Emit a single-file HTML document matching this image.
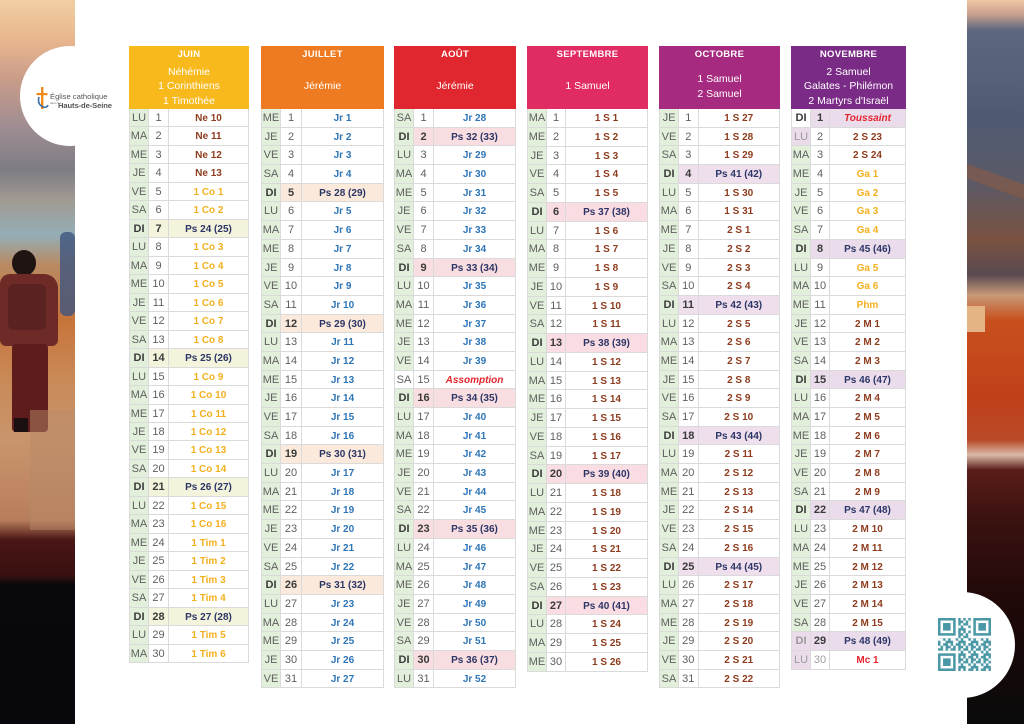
<!DOCTYPE html>
<html><head><meta charset="utf-8">
<style>
*{margin:0;padding:0;box-sizing:border-box}
body{width:1024px;height:724px;overflow:hidden;background:#fff;font-family:"Liberation Sans",sans-serif;position:relative}
.lp{position:absolute;left:0;top:0;width:75px;height:724px;overflow:hidden;
background:linear-gradient(to bottom,#F1CFA2 0px,#E8B68E 40px,#C99C8A 80px,#9C8C92 130px,#7E7C84 170px,#A19A92 200px,#94AEB6 235px,#B98A62 265px,#C7743A 320px,#C98A58 380px,#C9956C 440px,#B87E5C 520px,#4A1616 540px,#3A1010 575px,#09090D 585px,#08080C 724px)}
.rp{position:absolute;left:967px;top:0;width:57px;height:724px;overflow:hidden;
background:linear-gradient(to bottom,#EFC7A2 0px,#C9A08E 14px,#5E6780 30px,#4F5A72 120px,#5A5A68 180px,#7A5240 240px,#5A4A52 275px,#C89A78 295px,#C8501E 320px,#C0401A 400px,#B84A28 440px,#D9B9A8 455px,#5A1C18 470px,#3A1210 520px,#200808 600px,#0A0A0A 724px)}
.blob{position:absolute}
.circ{position:absolute;border-radius:50%;background:#fff}
.t{position:absolute;top:46px}
.h{height:63px;position:relative;color:#fff;text-align:center}
.h .m{position:absolute;top:1px;left:0;right:0;height:16px;line-height:16px;font-weight:bold;font-size:9.5px;letter-spacing:.3px}
.h .sub{position:absolute;top:18px;left:0;right:0;bottom:0;display:flex;flex-direction:column;justify-content:center;font-size:10.5px;line-height:14.5px}
.r{display:flex;height:var(--h);border-bottom:1px solid #dadada}
.r span{display:block;text-align:center;line-height:calc(var(--h) + 1px);white-space:nowrap;overflow:hidden}
.r span:nth-child(1){width:var(--d);background:#E2EFDA;color:#5f5f5f;font-size:11px;border-left:1px solid #dadada;border-right:1px solid #dadada}
.r span:nth-child(2){width:var(--n);color:#5f5f5f;font-size:11px;border-right:1px solid #dadada}
.r span:nth-child(3){flex:1;font-weight:bold;font-size:10px;border-right:1px solid #dadada}
.s span:nth-child(1),.s span:nth-child(2){font-weight:bold;color:#3a3a3a}
.s span:nth-child(2),.s span:nth-child(3){background:var(--s)}
.s span:nth-child(3){color:#2B3566}
.w span:nth-child(1){background:#fff}
.l span:nth-child(1){background:var(--s);color:#9a9a9a}
.g span:nth-child(2){color:#a0a0a0}
.a{color:#8E3C1D}.y{color:#F3B01E}.b{color:#2E75B6}
.rd{color:#E3262E !important;font-style:italic}.mc{color:#E3262E}
</style></head><body>

<div class="lp">
  <div class="blob" style="left:60px;top:232px;width:15px;height:84px;background:#3F5580;border-radius:6px;opacity:.8"></div>
  <div class="blob" style="left:12px;top:250px;width:24px;height:26px;background:#1E1412;border-radius:50%"></div>
  <div class="blob" style="left:0;top:274px;width:58px;height:72px;background:#6E2A26;border-radius:10px 14px 6px 6px"></div>
  <div class="blob" style="left:8px;top:284px;width:38px;height:46px;background:#5A2220;border-radius:6px"></div>
  <div class="blob" style="left:12px;top:344px;width:36px;height:88px;background:#5E1C1C;border-radius:4px"></div>
  <div class="blob" style="left:14px;top:418px;width:14px;height:14px;background:#1A1010"></div>
  <div class="blob" style="left:30px;top:410px;width:45px;height:120px;background:#B88A68;opacity:.5"></div>
</div>
<div class="circ" style="left:20px;top:46px;width:100px;height:100px"></div>

<!-- logo -->
<svg style="position:absolute;left:36px;top:87px" width="14" height="24" viewBox="0 0 14 24">
  <rect x="5" y="0" width="2.4" height="22" fill="#F08A1C"/>
  <rect x="0.5" y="6" width="11" height="2.2" fill="#F08A1C"/>
  <path d="M3 10 Q1 17 7 20 Q11 21 12 18" stroke="#3A6EA5" stroke-width="1.6" fill="none"/>
</svg>
<div style="position:absolute;left:50px;top:92px;font-size:7.6px;color:#555;line-height:9px;white-space:nowrap">Église catholique</div>
<div style="position:absolute;left:50px;top:101px;font-size:3px;color:#777;line-height:4px;white-space:nowrap">dans les</div>
<div style="position:absolute;left:58px;top:101px;font-size:7.6px;color:#555;line-height:9px;font-weight:bold;white-space:nowrap;letter-spacing:-.1px">Hauts-de-Seine</div>

<div class="rp">
  <div class="blob" style="left:0;top:306px;width:18px;height:26px;background:#E4B486"></div>
  <div class="blob" style="left:-10px;top:175px;width:80px;height:14px;background:#9A5A3A;opacity:.45;transform:rotate(20deg)"></div>
</div>
<div class="circ" style="left:909px;top:592px;width:106px;height:106px"></div>

<svg style="position:absolute;left:938px;top:618px" width="53" height="53" viewBox="0 0 21 21">
  <defs><pattern id="qp" patternUnits="userSpaceOnUse" width="5" height="5">
    <path fill="#4A97A6" d="M0 0h1v1h-1z M2 0h2v1h-2z M1 1h1v1h-1z M3 1h2v1h-2z M0 2h2v1h-2z M3 2h1v1h-1z M2 3h1v1h-1z M4 3h1v1h-1z M0 4h1v1h-1z M3 4h2v1h-2z"/>
  </pattern></defs>
  <rect width="21" height="21" fill="url(#qp)"/>
  <rect x="0" y="0" width="8" height="8" fill="#fff"/>
  <rect x="13" y="0" width="8" height="8" fill="#fff"/>
  <rect x="0" y="13" width="8" height="8" fill="#fff"/>
  <g fill="none" stroke="#4A97A6" stroke-width="1">
    <rect x="0.5" y="0.5" width="6" height="6"/><rect x="14.5" y="0.5" width="6" height="6"/><rect x="0.5" y="14.5" width="6" height="6"/>
  </g>
  <g fill="#4A97A6"><rect x="2" y="2" width="3" height="3"/><rect x="16" y="2" width="3" height="3"/><rect x="2" y="16" width="3" height="3"/></g>
</svg>

<!-- JUIN -->
<div class="t" style="left:129px;width:120px;--d:20px;--n:20px;--h:18.47px;--s:#F4F3DC">
<div class="h" style="background:#F8B91C"><div class="m">JUIN</div><div class="sub"><div>Néhémie</div><div>1 Corinthiens</div><div>1 Timothée</div></div></div>
<div class="r"><span>LU</span><span>1</span><span class="a">Ne 10</span></div>
<div class="r"><span>MA</span><span>2</span><span class="a">Ne 11</span></div>
<div class="r"><span>ME</span><span>3</span><span class="a">Ne 12</span></div>
<div class="r"><span>JE</span><span>4</span><span class="a">Ne 13</span></div>
<div class="r"><span>VE</span><span>5</span><span class="y">1 Co 1</span></div>
<div class="r"><span>SA</span><span>6</span><span class="y">1 Co 2</span></div>
<div class="r s"><span>DI</span><span>7</span><span>Ps 24 (25)</span></div>
<div class="r"><span>LU</span><span>8</span><span class="y">1 Co 3</span></div>
<div class="r"><span>MA</span><span>9</span><span class="y">1 Co 4</span></div>
<div class="r"><span>ME</span><span>10</span><span class="y">1 Co 5</span></div>
<div class="r"><span>JE</span><span>11</span><span class="y">1 Co 6</span></div>
<div class="r"><span>VE</span><span>12</span><span class="y">1 Co 7</span></div>
<div class="r"><span>SA</span><span>13</span><span class="y">1 Co 8</span></div>
<div class="r s"><span>DI</span><span>14</span><span>Ps 25 (26)</span></div>
<div class="r"><span>LU</span><span>15</span><span class="y">1 Co 9</span></div>
<div class="r"><span>MA</span><span>16</span><span class="y">1 Co 10</span></div>
<div class="r"><span>ME</span><span>17</span><span class="y">1 Co 11</span></div>
<div class="r"><span>JE</span><span>18</span><span class="y">1 Co 12</span></div>
<div class="r"><span>VE</span><span>19</span><span class="y">1 Co 13</span></div>
<div class="r"><span>SA</span><span>20</span><span class="y">1 Co 14</span></div>
<div class="r s"><span>DI</span><span>21</span><span>Ps 26 (27)</span></div>
<div class="r"><span>LU</span><span>22</span><span class="y">1 Co 15</span></div>
<div class="r"><span>MA</span><span>23</span><span class="y">1 Co 16</span></div>
<div class="r"><span>ME</span><span>24</span><span class="y">1 Tim 1</span></div>
<div class="r"><span>JE</span><span>25</span><span class="y">1 Tim 2</span></div>
<div class="r"><span>VE</span><span>26</span><span class="y">1 Tim 3</span></div>
<div class="r"><span>SA</span><span>27</span><span class="y">1 Tim 4</span></div>
<div class="r s"><span>DI</span><span>28</span><span>Ps 27 (28)</span></div>
<div class="r"><span>LU</span><span>29</span><span class="y">1 Tim 5</span></div>
<div class="r"><span>MA</span><span>30</span><span class="y">1 Tim 6</span></div>
</div>

<!-- JUILLET -->
<div class="t" style="left:261px;width:123px;--d:20px;--n:21px;--h:18.7px;--s:#FBEADC">
<div class="h" style="background:#EE7B21"><div class="m">JUILLET</div><div class="sub"><div>Jérémie</div></div></div>
<div class="r"><span>ME</span><span>1</span><span class="b">Jr 1</span></div>
<div class="r"><span>JE</span><span>2</span><span class="b">Jr 2</span></div>
<div class="r"><span>VE</span><span>3</span><span class="b">Jr 3</span></div>
<div class="r"><span>SA</span><span>4</span><span class="b">Jr 4</span></div>
<div class="r s"><span>DI</span><span>5</span><span>Ps 28 (29)</span></div>
<div class="r"><span>LU</span><span>6</span><span class="b">Jr 5</span></div>
<div class="r"><span>MA</span><span>7</span><span class="b">Jr 6</span></div>
<div class="r"><span>ME</span><span>8</span><span class="b">Jr 7</span></div>
<div class="r"><span>JE</span><span>9</span><span class="b">Jr 8</span></div>
<div class="r"><span>VE</span><span>10</span><span class="b">Jr 9</span></div>
<div class="r"><span>SA</span><span>11</span><span class="b">Jr 10</span></div>
<div class="r s"><span>DI</span><span>12</span><span>Ps 29 (30)</span></div>
<div class="r"><span>LU</span><span>13</span><span class="b">Jr 11</span></div>
<div class="r"><span>MA</span><span>14</span><span class="b">Jr 12</span></div>
<div class="r"><span>ME</span><span>15</span><span class="b">Jr 13</span></div>
<div class="r"><span>JE</span><span>16</span><span class="b">Jr 14</span></div>
<div class="r"><span>VE</span><span>17</span><span class="b">Jr 15</span></div>
<div class="r"><span>SA</span><span>18</span><span class="b">Jr 16</span></div>
<div class="r s"><span>DI</span><span>19</span><span>Ps 30 (31)</span></div>
<div class="r"><span>LU</span><span>20</span><span class="b">Jr 17</span></div>
<div class="r"><span>MA</span><span>21</span><span class="b">Jr 18</span></div>
<div class="r"><span>ME</span><span>22</span><span class="b">Jr 19</span></div>
<div class="r"><span>JE</span><span>23</span><span class="b">Jr 20</span></div>
<div class="r"><span>VE</span><span>24</span><span class="b">Jr 21</span></div>
<div class="r"><span>SA</span><span>25</span><span class="b">Jr 22</span></div>
<div class="r s"><span>DI</span><span>26</span><span>Ps 31 (32)</span></div>
<div class="r"><span>LU</span><span>27</span><span class="b">Jr 23</span></div>
<div class="r"><span>MA</span><span>28</span><span class="b">Jr 24</span></div>
<div class="r"><span>ME</span><span>29</span><span class="b">Jr 25</span></div>
<div class="r"><span>JE</span><span>30</span><span class="b">Jr 26</span></div>
<div class="r"><span>VE</span><span>31</span><span class="b">Jr 27</span></div>
</div>

<!-- AOUT -->
<div class="t" style="left:394px;width:122px;--d:20px;--n:20px;--h:18.7px;--s:#F9DEE1">
<div class="h" style="background:#E0262E"><div class="m">AOÛT</div><div class="sub"><div>Jérémie</div></div></div>
<div class="r"><span>SA</span><span>1</span><span class="b">Jr 28</span></div>
<div class="r s"><span>DI</span><span>2</span><span>Ps 32 (33)</span></div>
<div class="r"><span>LU</span><span>3</span><span class="b">Jr 29</span></div>
<div class="r"><span>MA</span><span>4</span><span class="b">Jr 30</span></div>
<div class="r"><span>ME</span><span>5</span><span class="b">Jr 31</span></div>
<div class="r"><span>JE</span><span>6</span><span class="b">Jr 32</span></div>
<div class="r"><span>VE</span><span>7</span><span class="b">Jr 33</span></div>
<div class="r"><span>SA</span><span>8</span><span class="b">Jr 34</span></div>
<div class="r s"><span>DI</span><span>9</span><span>Ps 33 (34)</span></div>
<div class="r"><span>LU</span><span>10</span><span class="b">Jr 35</span></div>
<div class="r"><span>MA</span><span>11</span><span class="b">Jr 36</span></div>
<div class="r"><span>ME</span><span>12</span><span class="b">Jr 37</span></div>
<div class="r"><span>JE</span><span>13</span><span class="b">Jr 38</span></div>
<div class="r"><span>VE</span><span>14</span><span class="b">Jr 39</span></div>
<div class="r w"><span>SA</span><span>15</span><span class="rd">Assomption</span></div>
<div class="r s"><span>DI</span><span>16</span><span>Ps 34 (35)</span></div>
<div class="r"><span>LU</span><span>17</span><span class="b">Jr 40</span></div>
<div class="r"><span>MA</span><span>18</span><span class="b">Jr 41</span></div>
<div class="r"><span>ME</span><span>19</span><span class="b">Jr 42</span></div>
<div class="r"><span>JE</span><span>20</span><span class="b">Jr 43</span></div>
<div class="r"><span>VE</span><span>21</span><span class="b">Jr 44</span></div>
<div class="r"><span>SA</span><span>22</span><span class="b">Jr 45</span></div>
<div class="r s"><span>DI</span><span>23</span><span>Ps 35 (36)</span></div>
<div class="r"><span>LU</span><span>24</span><span class="b">Jr 46</span></div>
<div class="r"><span>MA</span><span>25</span><span class="b">Jr 47</span></div>
<div class="r"><span>ME</span><span>26</span><span class="b">Jr 48</span></div>
<div class="r"><span>JE</span><span>27</span><span class="b">Jr 49</span></div>
<div class="r"><span>VE</span><span>28</span><span class="b">Jr 50</span></div>
<div class="r"><span>SA</span><span>29</span><span class="b">Jr 51</span></div>
<div class="r s"><span>DI</span><span>30</span><span>Ps 36 (37)</span></div>
<div class="r"><span>LU</span><span>31</span><span class="b">Jr 52</span></div>
</div>

<!-- SEPTEMBRE -->
<div class="t" style="left:527px;width:121px;--d:20px;--n:19px;--h:18.75px;--s:#FADCE3">
<div class="h" style="background:#E12B63"><div class="m">SEPTEMBRE</div><div class="sub"><div>1 Samuel</div></div></div>
<div class="r"><span>MA</span><span>1</span><span class="a">1 S 1</span></div>
<div class="r"><span>ME</span><span>2</span><span class="a">1 S 2</span></div>
<div class="r"><span>JE</span><span>3</span><span class="a">1 S 3</span></div>
<div class="r"><span>VE</span><span>4</span><span class="a">1 S 4</span></div>
<div class="r"><span>SA</span><span>5</span><span class="a">1 S 5</span></div>
<div class="r s"><span>DI</span><span>6</span><span>Ps 37 (38)</span></div>
<div class="r"><span>LU</span><span>7</span><span class="a">1 S 6</span></div>
<div class="r"><span>MA</span><span>8</span><span class="a">1 S 7</span></div>
<div class="r"><span>ME</span><span>9</span><span class="a">1 S 8</span></div>
<div class="r"><span>JE</span><span>10</span><span class="a">1 S 9</span></div>
<div class="r"><span>VE</span><span>11</span><span class="a">1 S 10</span></div>
<div class="r"><span>SA</span><span>12</span><span class="a">1 S 11</span></div>
<div class="r s"><span>DI</span><span>13</span><span>Ps 38 (39)</span></div>
<div class="r"><span>LU</span><span>14</span><span class="a">1 S 12</span></div>
<div class="r"><span>MA</span><span>15</span><span class="a">1 S 13</span></div>
<div class="r"><span>ME</span><span>16</span><span class="a">1 S 14</span></div>
<div class="r"><span>JE</span><span>17</span><span class="a">1 S 15</span></div>
<div class="r"><span>VE</span><span>18</span><span class="a">1 S 16</span></div>
<div class="r"><span>SA</span><span>19</span><span class="a">1 S 17</span></div>
<div class="r s"><span>DI</span><span>20</span><span>Ps 39 (40)</span></div>
<div class="r"><span>LU</span><span>21</span><span class="a">1 S 18</span></div>
<div class="r"><span>MA</span><span>22</span><span class="a">1 S 19</span></div>
<div class="r"><span>ME</span><span>23</span><span class="a">1 S 20</span></div>
<div class="r"><span>JE</span><span>24</span><span class="a">1 S 21</span></div>
<div class="r"><span>VE</span><span>25</span><span class="a">1 S 22</span></div>
<div class="r"><span>SA</span><span>26</span><span class="a">1 S 23</span></div>
<div class="r s"><span>DI</span><span>27</span><span>Ps 40 (41)</span></div>
<div class="r"><span>LU</span><span>28</span><span class="a">1 S 24</span></div>
<div class="r"><span>MA</span><span>29</span><span class="a">1 S 25</span></div>
<div class="r"><span>ME</span><span>30</span><span class="a">1 S 26</span></div>
</div>

<!-- OCTOBRE -->
<div class="t" style="left:659px;width:121px;--d:20px;--n:19.5px;--h:18.7px;--s:#EFDFEC">
<div class="h" style="background:#A62A7F"><div class="m">OCTOBRE</div><div class="sub"><div>1 Samuel</div><div>2 Samuel</div></div></div>
<div class="r"><span>JE</span><span>1</span><span class="a">1 S 27</span></div>
<div class="r"><span>VE</span><span>2</span><span class="a">1 S 28</span></div>
<div class="r"><span>SA</span><span>3</span><span class="a">1 S 29</span></div>
<div class="r s"><span>DI</span><span>4</span><span>Ps 41 (42)</span></div>
<div class="r"><span>LU</span><span>5</span><span class="a">1 S 30</span></div>
<div class="r"><span>MA</span><span>6</span><span class="a">1 S 31</span></div>
<div class="r"><span>ME</span><span>7</span><span class="a">2 S 1</span></div>
<div class="r"><span>JE</span><span>8</span><span class="a">2 S 2</span></div>
<div class="r"><span>VE</span><span>9</span><span class="a">2 S 3</span></div>
<div class="r"><span>SA</span><span>10</span><span class="a">2 S 4</span></div>
<div class="r s"><span>DI</span><span>11</span><span>Ps 42 (43)</span></div>
<div class="r"><span>LU</span><span>12</span><span class="a">2 S 5</span></div>
<div class="r"><span>MA</span><span>13</span><span class="a">2 S 6</span></div>
<div class="r"><span>ME</span><span>14</span><span class="a">2 S 7</span></div>
<div class="r"><span>JE</span><span>15</span><span class="a">2 S 8</span></div>
<div class="r"><span>VE</span><span>16</span><span class="a">2 S 9</span></div>
<div class="r"><span>SA</span><span>17</span><span class="a">2 S 10</span></div>
<div class="r s"><span>DI</span><span>18</span><span>Ps 43 (44)</span></div>
<div class="r"><span>LU</span><span>19</span><span class="a">2 S 11</span></div>
<div class="r"><span>MA</span><span>20</span><span class="a">2 S 12</span></div>
<div class="r"><span>ME</span><span>21</span><span class="a">2 S 13</span></div>
<div class="r"><span>JE</span><span>22</span><span class="a">2 S 14</span></div>
<div class="r"><span>VE</span><span>23</span><span class="a">2 S 15</span></div>
<div class="r"><span>SA</span><span>24</span><span class="a">2 S 16</span></div>
<div class="r s"><span>DI</span><span>25</span><span>Ps 44 (45)</span></div>
<div class="r"><span>LU</span><span>26</span><span class="a">2 S 17</span></div>
<div class="r"><span>MA</span><span>27</span><span class="a">2 S 18</span></div>
<div class="r"><span>ME</span><span>28</span><span class="a">2 S 19</span></div>
<div class="r"><span>JE</span><span>29</span><span class="a">2 S 20</span></div>
<div class="r"><span>VE</span><span>30</span><span class="a">2 S 21</span></div>
<div class="r"><span>SA</span><span>31</span><span class="a">2 S 22</span></div>
</div>

<!-- NOVEMBRE -->
<div class="t" style="left:791px;width:115px;--d:20px;--n:19px;--h:18.7px;--s:#EADCEB">
<div class="h" style="background:#7A2B86"><div class="m">NOVEMBRE</div><div class="sub"><div>2 Samuel</div><div>Galates - Philémon</div><div>2 Martyrs d'Israël</div></div></div>
<div class="r s w"><span>DI</span><span>1</span><span class="rd">Toussaint</span></div>
<div class="r l"><span>LU</span><span>2</span><span class="a">2 S 23</span></div>
<div class="r"><span>MA</span><span>3</span><span class="a">2 S 24</span></div>
<div class="r"><span>ME</span><span>4</span><span class="y">Ga 1</span></div>
<div class="r"><span>JE</span><span>5</span><span class="y">Ga 2</span></div>
<div class="r"><span>VE</span><span>6</span><span class="y">Ga 3</span></div>
<div class="r"><span>SA</span><span>7</span><span class="y">Ga 4</span></div>
<div class="r s"><span>DI</span><span>8</span><span>Ps 45 (46)</span></div>
<div class="r"><span>LU</span><span>9</span><span class="y">Ga 5</span></div>
<div class="r"><span>MA</span><span>10</span><span class="y">Ga 6</span></div>
<div class="r"><span>ME</span><span>11</span><span class="y">Phm</span></div>
<div class="r"><span>JE</span><span>12</span><span class="a">2 M 1</span></div>
<div class="r"><span>VE</span><span>13</span><span class="a">2 M 2</span></div>
<div class="r"><span>SA</span><span>14</span><span class="a">2 M 3</span></div>
<div class="r s"><span>DI</span><span>15</span><span>Ps 46 (47)</span></div>
<div class="r"><span>LU</span><span>16</span><span class="a">2 M 4</span></div>
<div class="r"><span>MA</span><span>17</span><span class="a">2 M 5</span></div>
<div class="r"><span>ME</span><span>18</span><span class="a">2 M 6</span></div>
<div class="r"><span>JE</span><span>19</span><span class="a">2 M 7</span></div>
<div class="r"><span>VE</span><span>20</span><span class="a">2 M 8</span></div>
<div class="r"><span>SA</span><span>21</span><span class="a">2 M 9</span></div>
<div class="r s"><span>DI</span><span>22</span><span>Ps 47 (48)</span></div>
<div class="r"><span>LU</span><span>23</span><span class="a">2 M 10</span></div>
<div class="r"><span>MA</span><span>24</span><span class="a">2 M 11</span></div>
<div class="r"><span>ME</span><span>25</span><span class="a">2 M 12</span></div>
<div class="r"><span>JE</span><span>26</span><span class="a">2 M 13</span></div>
<div class="r"><span>VE</span><span>27</span><span class="a">2 M 14</span></div>
<div class="r"><span>SA</span><span>28</span><span class="a">2 M 15</span></div>
<div class="r s l"><span>DI</span><span>29</span><span>Ps 48 (49)</span></div>
<div class="r l g"><span>LU</span><span>30</span><span class="mc">Mc 1</span></div>
</div>

</body></html>
